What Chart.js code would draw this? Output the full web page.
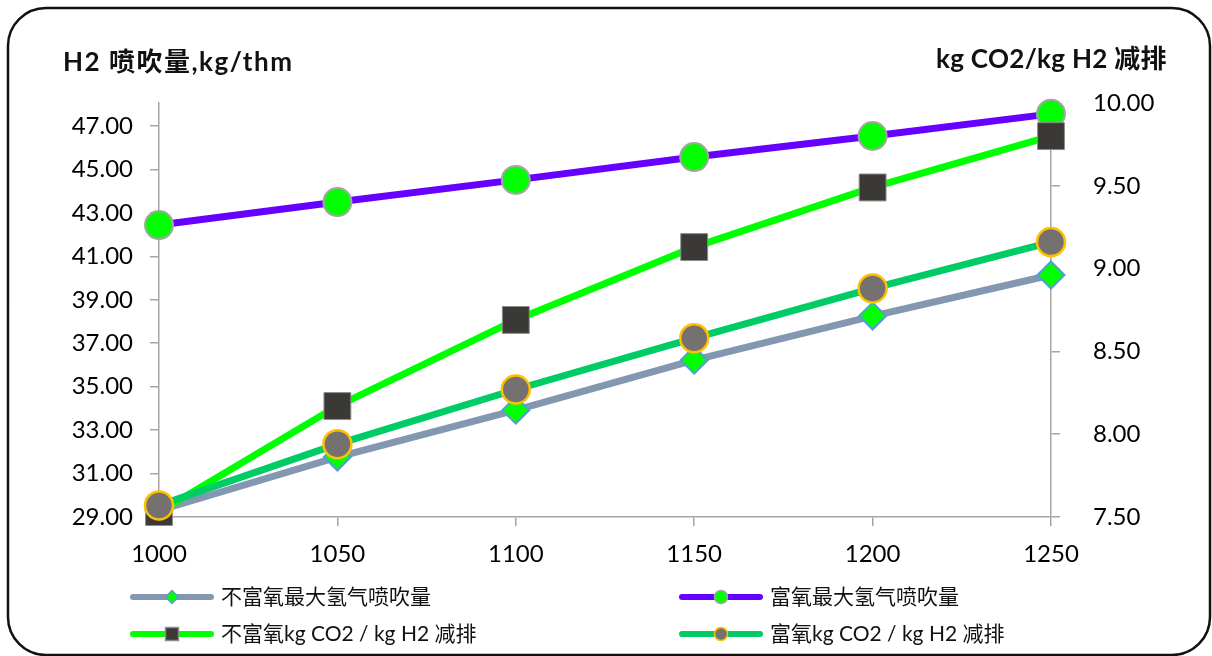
<!DOCTYPE html>
<html>
<head>
<meta charset="utf-8">
<title>H2 喷吹量与 CO2 减排</title>
<style>
  html, body { margin: 0; padding: 0; background: #ffffff; }
  #wrap { width: 1212px; height: 656px; position: relative; }
  canvas { display: block; }
</style>
<script src="https://cdn.jsdelivr.net/npm/chart.js@4.4.1/dist/chart.umd.min.js"></script>
</head>
<body>
<div id="wrap"><canvas id="chart" width="1212" height="656"></canvas></div>
<script>
// Temperature categories (x axis)
const temperatures = ['1000', '1050', '1100', '1150', '1200', '1250'];

// Maximum hydrogen injection, kg/thm (left axis)
const h2MaxNoEnrich = [29.30, 31.76, 33.92, 36.22, 38.25, 40.14];
const h2MaxEnrich   = [42.44, 43.50, 44.52, 45.57, 46.54, 47.56];

// CO2 reduction per kg H2 (right axis)
const co2CutNoEnrich = [7.53, 8.17, 8.69, 9.13, 9.49, 9.80];
const co2CutEnrich   = [7.57, 7.94, 8.27, 8.58, 8.88, 9.16];

// Tick values shown on each value axis
const leftTicks  = [29, 31, 33, 35, 37, 39, 41, 43, 45, 47];
const rightTicks = [7.5, 8.0, 8.5, 9.0, 9.5, 10.0];

const seriesNames = [
  '不富氧最大氢气喷吹量',
  '富氧最大氢气喷吹量',
  '不富氧kg CO2 / kg H2 减排',
  '富氧kg CO2 / kg H2 减排'
];

const FONT = 'Lato, "Noto Sans CJK SC", sans-serif';
const AXIS_GREY = '#a6a6a6';

// Marker shapes used in the legend
function drawMarker(ctx, style, x, y, r, fill, stroke, lw) {
  ctx.save();
  ctx.fillStyle = fill;
  ctx.strokeStyle = stroke;
  ctx.lineWidth = lw;
  ctx.beginPath();
  if (style === 'rectRot') {
    ctx.moveTo(x, y - r); ctx.lineTo(x + r, y); ctx.lineTo(x, y + r); ctx.lineTo(x - r, y); ctx.closePath();
  } else if (style === 'rect') {
    ctx.rect(x - r, y - r, 2 * r, 2 * r);
  } else {
    ctx.arc(x, y, r, 0, Math.PI * 2);
  }
  ctx.fill();
  if (lw > 0) ctx.stroke();
  ctx.restore();
}

// Rounded outer frame
const framePlugin = {
  id: 'frame',
  afterDraw(chart) {
    const ctx = chart.ctx;
    const x0 = 8, y0 = 8, x1 = 1210, y1 = 655, r = 38;
    ctx.save();
    ctx.strokeStyle = '#111111';
    ctx.lineWidth = 2.5;
    ctx.beginPath();
    ctx.moveTo(x0 + r, y0);
    ctx.lineTo(x1 - r, y0);
    ctx.arcTo(x1, y0, x1, y0 + r, r);
    ctx.lineTo(x1, y1 - r);
    ctx.arcTo(x1, y1, x1 - r, y1, r);
    ctx.lineTo(x0 + r, y1);
    ctx.arcTo(x0, y1, x0, y1 - r, r);
    ctx.lineTo(x0, y0 + r);
    ctx.arcTo(x0, y0, x0 + r, y0, r);
    ctx.closePath();
    ctx.stroke();
    ctx.restore();
  }
};

// Axis unit titles above the two value axes
const axisTitlePlugin = {
  id: 'axisTitles',
  afterDraw(chart) {
    const ctx = chart.ctx;
    ctx.save();
    ctx.fillStyle = '#111111';
    ctx.font = 'bold 26px ' + FONT;
    ctx.textBaseline = 'middle';
    ctx.textAlign = 'left';
    ctx.letterSpacing = '1.5px';
    ctx.fillText('H2 喷吹量,kg/thm', 63, 63);
    ctx.letterSpacing = '0.3px';
    ctx.fillText('kg CO2/kg H2 减排', 936, 60);
    ctx.restore();
  }
};

// Two-column legend below the x axis
const legendPlugin = {
  id: 'pairLegend',
  afterDraw(chart) {
    const ctx = chart.ctx;
    const cols = [130, 679];
    const rows = [597, 634];
    chart.data.datasets.forEach((ds, i) => {
      const x0 = cols[i % 2];
      const y = rows[Math.floor(i / 2)];
      ctx.save();
      ctx.strokeStyle = ds.borderColor;
      ctx.lineWidth = 6;
      ctx.lineCap = 'round';
      ctx.beginPath();
      ctx.moveTo(x0 + 3, y);
      ctx.lineTo(x0 + 81, y);
      ctx.stroke();
      ctx.restore();
      drawMarker(ctx, ds.pointStyle, x0 + 42, y, 6.5, ds.pointBackgroundColor, ds.pointBorderColor, 1.5);
      ctx.save();
      ctx.fillStyle = '#111111';
      ctx.font = '21px ' + FONT;
      ctx.textBaseline = 'middle';
      ctx.textAlign = 'left';
      ctx.fillText(ds.label, x0 + 91, y);
      ctx.restore();
    });
  }
};

const tickFont = { family: FONT, size: 24 };

new Chart(document.getElementById('chart'), {
  type: 'line',
  data: {
    labels: temperatures,
    datasets: [
      {
        label: seriesNames[0],
        data: h2MaxNoEnrich,
        yAxisID: 'y',
        borderColor: '#8497b0',
        borderWidth: 7,
        pointStyle: 'rectRot',
        pointRadius: 13.5,
        pointBackgroundColor: '#00ff00',
        pointBorderColor: '#5b9bd5',
        pointBorderWidth: 2,
        order: 4,
        clip: false
      },
      {
        label: seriesNames[1],
        data: h2MaxEnrich,
        yAxisID: 'y',
        borderColor: '#6600ff',
        borderWidth: 7,
        pointStyle: 'circle',
        pointRadius: 14,
        pointBackgroundColor: '#00ff00',
        pointBorderColor: '#a5a5a5',
        pointBorderWidth: 2,
        order: 3,
        clip: false
      },
      {
        label: seriesNames[2],
        data: co2CutNoEnrich,
        yAxisID: 'y1',
        borderColor: '#00ff00',
        borderWidth: 7,
        pointStyle: 'rect',
        pointRadius: 19,
        pointBackgroundColor: '#3b3936',
        pointBorderColor: '#8c8c8c',
        pointBorderWidth: 1,
        order: 2,
        clip: false
      },
      {
        label: seriesNames[3],
        data: co2CutEnrich,
        yAxisID: 'y1',
        borderColor: '#00cc66',
        borderWidth: 7,
        pointStyle: 'circle',
        pointRadius: 14,
        pointBackgroundColor: '#767171',
        pointBorderColor: '#ffc000',
        pointBorderWidth: 2.5,
        order: 1,
        clip: false
      }
    ]
  },
  options: {
    responsive: false,
    animation: false,
    devicePixelRatio: 1,
    layout: { padding: { top: 103, left: 0, right: 0, bottom: 0 } },
    plugins: {
      legend: { display: false },
      tooltip: { enabled: false },
      title: { display: false }
    },
    elements: { line: { tension: 0, capBezierPoints: false } },
    scales: {
      x: {
        type: 'category',
        offset: false,
        grid: { display: true, drawOnChartArea: false, drawTicks: true, tickLength: 9, color: AXIS_GREY, lineWidth: 1.5 },
        border: { display: true, color: AXIS_GREY, width: 1.5 },
        ticks: { font: tickFont, color: '#000000', padding: 14, maxRotation: 0 },
        afterFit(scale) { scale.height = 139; }
      },
      y: {
        position: 'left',
        min: 29,
        max: 48.06,
        afterBuildTicks(scale) { scale.ticks = leftTicks.map(v => ({ value: v })); },
        grid: { display: true, drawOnChartArea: false, drawTicks: true, tickLength: 9, color: AXIS_GREY, lineWidth: 1.5 },
        border: { display: true, color: AXIS_GREY, width: 1.5 },
        ticks: { font: tickFont, color: '#000000', padding: 17, callback: v => Number(v).toFixed(2) },
        afterFit(scale) { scale.width = 159; }
      },
      y1: {
        position: 'right',
        min: 7.5,
        max: 10,
        afterBuildTicks(scale) { scale.ticks = rightTicks.map(v => ({ value: v })); },
        grid: { display: true, drawOnChartArea: false, drawTicks: true, tickLength: 9, color: AXIS_GREY, lineWidth: 1.5 },
        border: { display: true, color: AXIS_GREY, width: 1.5 },
        ticks: { font: tickFont, color: '#000000', padding: 33, callback: v => Number(v).toFixed(2) },
        afterFit(scale) { scale.width = 161; }
      }
    }
  },
  plugins: [framePlugin, axisTitlePlugin, legendPlugin]
});
</script>
</body>
</html>
